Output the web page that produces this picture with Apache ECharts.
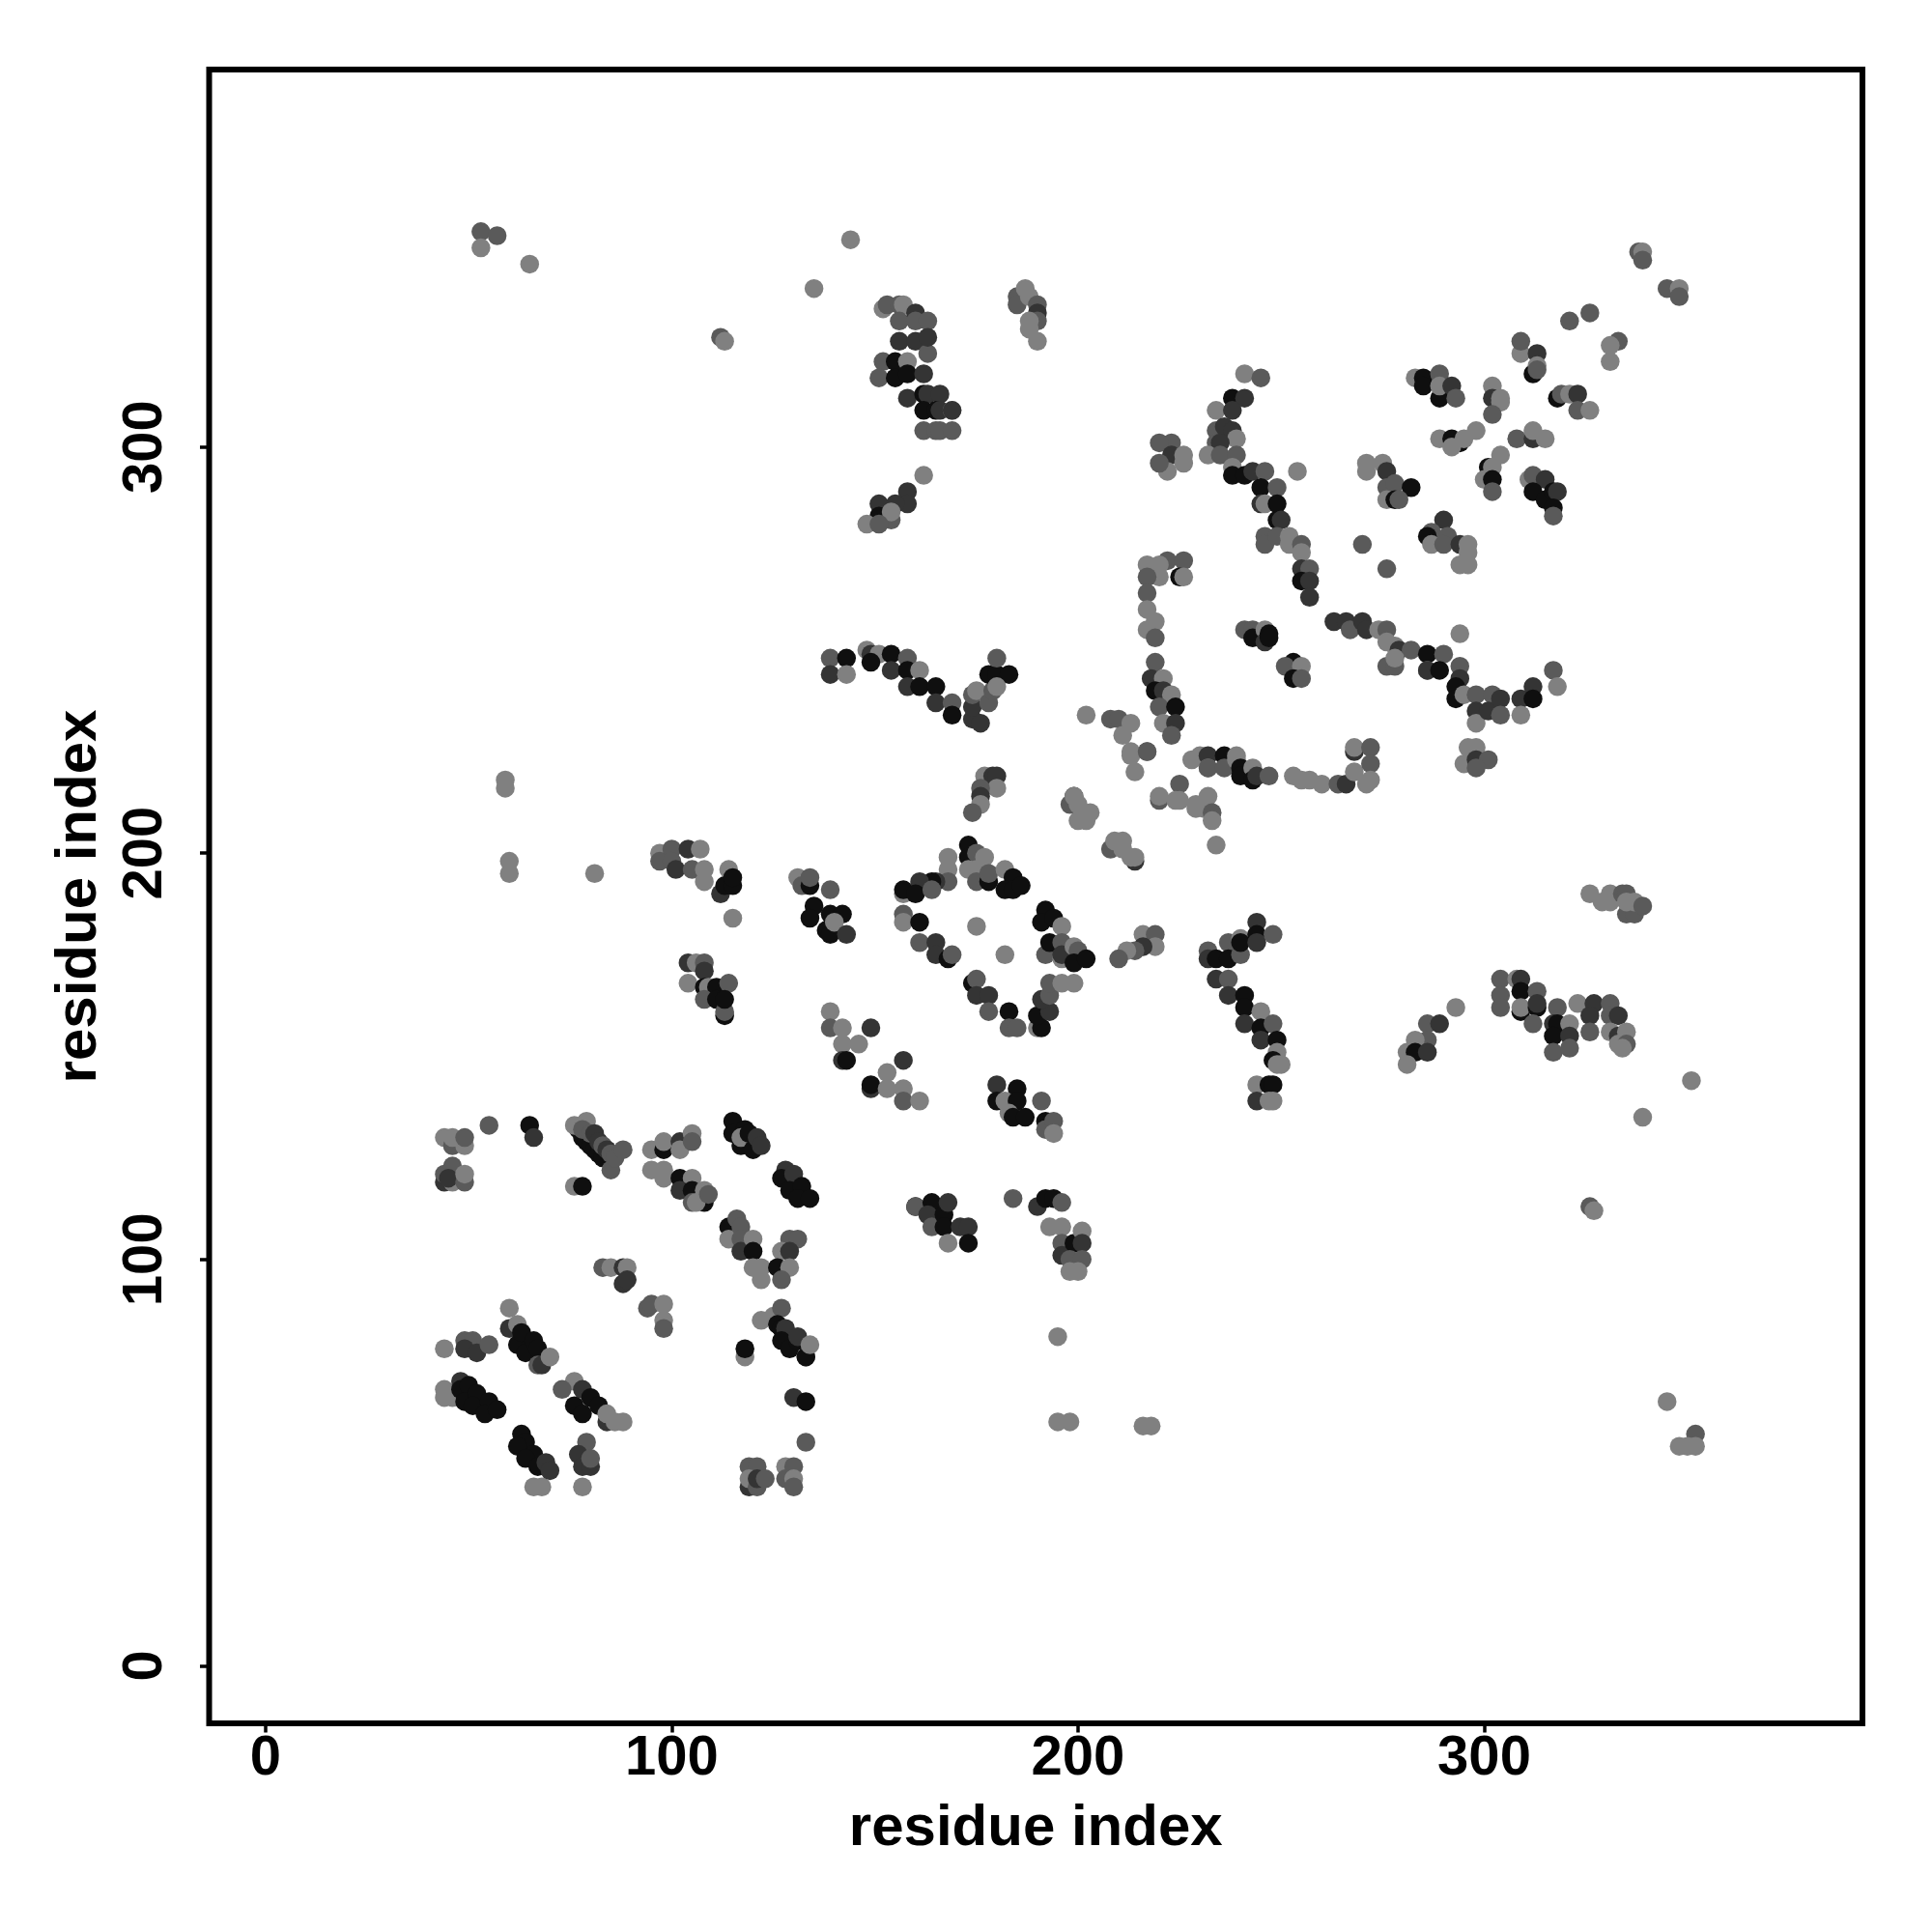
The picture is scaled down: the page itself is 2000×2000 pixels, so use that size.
<!DOCTYPE html>
<html><head><meta charset="utf-8">
<style>html,body{margin:0;padding:0;background:#fff}#c{width:2000px;height:2000px}</style>
<script src="https://cdn.jsdelivr.net/npm/echarts@6/dist/echarts.min.js"></script>
</head><body><div id="c"></div>
<script>
const L=0,M=1,D=2,K=3;
const shades=['#808080','#5a5a5a','#343434','#0f0f0f'];
const tickValues=[0,100,200,300];
const axisTitle='residue index';
const lowLeftTop=[[44,130,L],[46,128,M],[46,130,L],[49,128,L],[49,130,M],[55,133,M],[65,133,K],[66,130,D],[44,119,D],[44,121,M],[46,119,L],[46,123,M],[45,120,D],[49,119,M],[49,121,L],[77,132,K],[78,130,K],[79,129,K],[80,128,K],[81,127,K],[82,126,K],[83,125,K],[76,133,L],[79,134,L],[78,132,M],[80,131,M],[81,131,D],[82,129,D],[83,128,M],[85,122,M],[84,127,D],[85,126,M],[86,125,M],[88,127,M],[76,118,L],[78,118,K]];
const lowMidTop=[[95,127,L],[98,127,K],[98,129,L],[102,129,D],[102,127,L],[105,131,L],[105,129,M],[95,122,L],[98,122,L],[98,120,L],[102,120,K],[105,120,L],[102,117,D],[105,117,K],[105,114,M],[108,114,K],[106,114,L],[108,117,L],[109,116,M],[115,134,K],[115,131,K],[117,128,K],[118,132,K],[117,130,L],[119,131,K],[120,127,K],[121,130,D],[122,128,D],[128,122,D],[127,120,K],[130,121,D],[129,117,K],[132,118,K],[131,115,K],[134,115,K]];
const lowMidArc=[[114,108,K],[114,105,L],[116,110,M],[117,108,M],[117,105,M],[117,102,D],[120,105,L],[120,102,K],[120,98,L],[122,98,L],[122,95,L],[129,105,M],[131,105,M],[127,102,L],[129,102,D],[126,98,K],[129,98,L],[127,95,M],[83,98,M],[85,98,L],[88,98,D],[89,98,L],[88,94,D],[89,95,D],[94,88,M],[95,89,M],[98,89,L],[98,85,L],[98,83,M]];
const lowRight=[[122,85,L],[125,86,L],[127,88,M],[126,84,K],[127,83,K],[128,83,D],[127,80,K],[129,78,K],[131,80,K],[131,81,D],[133,76,L],[133,76,K],[134,79,L],[118,76,L],[118,78,K],[130,66,D],[133,65,K],[133,55,M],[119,49,M],[121,49,M],[119,44,D],[119,46,L],[121,44,M],[121,46,D],[123,46,M],[128,49,L],[130,49,M],[128,46,M],[130,46,L],[130,44,M]];
const lowLeftBottom=[[66,44,L],[68,44,L],[63,57,K],[64,55,K],[62,54,K],[66,52,K],[64,51,K],[67,49,K],[69,50,D],[70,48,D],[79,55,M],[77,52,D],[78,49,D],[80,49,D],[80,51,M],[78,44,L],[44,78,L],[49,80,M],[51,80,M],[49,78,D],[52,77,D],[55,79,M],[60,88,L],[60,83,D],[62,84,L],[62,79,K],[63,82,K],[64,77,K],[66,80,K],[67,78,K],[67,74,M],[68,74,D],[70,76,L],[44,68,L],[44,66,L],[46,66,L],[48,70,D],[48,68,K],[50,69,K],[49,65,K],[52,67,K],[51,64,K],[55,65,K],[54,62,K],[57,63,K],[76,70,L],[73,68,M],[78,68,D],[76,64,K],[80,66,K],[78,62,K],[82,64,K],[84,60,D],[84,62,L],[86,60,L],[88,60,L]];
const midLeft=[[59,218,L],[59,216,L],[60,198,L],[60,195,L],[81,195,L],[97,200,L],[97,198,M],[100,201,M],[100,198,M],[101,196,D],[104,201,D],[105,196,M],[107,201,L],[108,196,L],[108,193,L],[114,196,L],[112,190,D],[113,192,K],[115,192,K],[115,194,K],[115,184,L],[131,194,L],[132,192,M],[134,192,K],[134,194,M],[139,191,M],[135,187,K],[134,184,K],[138,181,K],[139,180,K],[139,185,K],[142,185,K],[140,183,L],[143,180,D]];
const midLower=[[104,173,D],[106,173,L],[108,173,M],[108,171,D],[104,168,L],[108,167,K],[109,167,L],[111,167,K],[114,168,M],[108,164,M],[111,164,K],[113,160,K],[113,161,M],[113,164,K],[139,161,L],[139,157,M],[142,157,L],[149,157,D],[142,153,L],[146,153,L],[142,149,D],[143,149,K],[149,142,D],[149,143,K],[153,146,L],[153,142,L],[157,149,D],[157,142,L],[157,139,M],[161,139,L]];
const mainDiamond=[[173,202,K],[173,199,K],[175,200,M],[177,199,L],[173,196,L],[175,196,L],[175,193,M],[178,193,K],[178,195,M],[182,196,L],[184,194,K],[182,191,K],[184,191,K],[186,192,K],[168,199,L],[168,196,L],[168,193,M],[165,193,D],[164,193,K],[161,193,D],[157,190,L],[157,191,K],[160,190,K],[164,191,M],[157,185,M],[157,183,L],[161,183,K],[161,178,M],[165,178,D],[165,175,D],[168,174,K],[169,175,M],[175,182,L],[182,175,L],[192,186,K],[191,183,K],[194,184,K],[196,182,L],[192,175,M],[193,178,K],[196,174,L],[196,178,M],[196,175,D],[199,177,L],[200,176,M],[199,173,K],[202,174,K],[174,168,K],[175,169,M],[175,165,D],[178,165,D],[178,161,M],[183,161,K],[183,157,M],[185,157,M],[190,157,L],[191,157,K],[190,160,K],[193,161,D],[191,164,D],[193,165,M],[193,168,M],[196,168,L],[199,168,L]];
const upperDiag=[[177,219,L],[179,219,D],[180,219,D],[180,216,L],[176,216,M],[176,214,D],[176,212,L],[174,210,M],[199,214,D],[198,212,M],[199,214,L],[200,212,L],[200,208,L],[203,210,L],[202,208,L],[208,201,M],[209,203,L],[211,203,L],[214,198,D],[211,201,L],[213,199,L],[214,199,L],[213,224,L],[217,225,M],[214,220,L],[220,213,M],[220,214,L],[225,217,M],[224,213,L],[225,213,L],[229,212,L],[232,214,L],[229,211,L],[231,211,L],[233,210,M],[233,208,L],[234,202,L],[253,219,L],[255,218,L],[257,218,L],[260,217,L],[264,217,M],[266,217,D],[268,220,L],[271,217,L],[268,225,D],[268,226,L],[272,226,M],[272,222,M],[272,218,L],[296,226,L],[298,226,L],[295,222,L],[298,223,D],[301,223,M],[298,221,M]];
const midTopRow=[[228,223,L],[230,224,L],[232,224,D],[232,221,L],[232,221,M],[236,224,K],[236,221,M],[239,224,L],[239,223,L],[240,221,K],[240,219,K],[243,221,L],[243,218,K],[244,219,D],[247,219,M]];
const lowMidCentre=[[180,143,D],[185,142,K],[180,139,K],[182,139,L],[185,139,K],[183,136,L],[184,135,K],[187,135,K],[191,139,M],[192,134,K],[192,132,M],[194,134,M],[194,131,L],[160,113,K],[160,113,M],[164,114,K],[163,111,D],[164,108,M],[167,111,K],[167,108,K],[168,114,D],[171,108,D],[173,108,D],[168,104,L],[173,104,K],[184,115,M],[190,113,D],[192,115,K],[194,115,K],[196,114,M],[193,108,L],[196,108,L],[196,104,M],[196,101,D],[199,104,K],[198,100,M],[201,107,L],[201,104,D],[201,100,M],[198,97,L],[200,97,L]];
const rightMid=[[232,176,M],[232,174,D],[234,174,K],[237,178,M],[237,174,K],[240,179,L],[240,175,M],[240,178,K],[244,183,D],[244,180,K],[244,178,D],[248,180,M],[234,169,D],[237,169,M],[237,165,D],[241,165,K],[241,162,K],[241,158,D],[245,161,L],[245,157,K],[248,158,M],[245,154,D],[249,154,K],[249,151,L],[248,149,K],[249,148,L],[250,148,L],[244,143,L],[247,143,K],[248,143,K],[244,139,D],[247,139,L],[248,139,L],[216,180,L],[219,180,M],[219,177,L],[216,177,D],[214,176,M],[212,176,L],[210,174,M]];
const upperMidA=[[241,318,L],[245,317,M],[238,312,K],[241,312,D],[234,309,L],[238,309,D],[234,304,M],[236,305,D],[238,304,D],[239,302,L],[234,301,M],[235,301,D],[232,298,L],[235,298,M],[239,298,M],[238,295,L],[238,293,K],[241,293,K],[243,294,D],[246,294,M],[245,290,K],[249,290,M],[245,286,D],[246,286,L],[249,286,K],[249,282,K],[250,282,D],[246,278,M],[246,276,M],[249,278,M],[252,278,L],[252,276,L],[255,276,M],[255,274,L],[255,270,D],[257,270,M],[255,267,K],[257,267,D],[257,263,D],[254,294,L],[223,301,M],[220,301,M],[223,298,D],[226,298,L],[226,296,L],[222,294,L],[220,296,M]];
const upperRight=[[283,317,L],[285,317,K],[285,315,K],[289,312,K],[289,318,M],[289,315,L],[292,315,D],[293,312,M],[302,315,L],[302,312,D],[304,312,L],[304,311,L],[302,308,M],[318,312,K],[319,313,M],[321,313,L],[323,313,D],[323,309,M],[326,309,L],[309,323,L],[313,323,D],[312,318,K],[313,320,L],[313,319,M],[331,321,L],[289,302,L],[292,302,K],[294,301,K],[292,300,L],[295,302,L],[298,304,L],[308,302,M],[312,302,D],[312,304,L],[315,302,L],[304,298,L],[301,295,K],[302,295,L],[300,292,L],[302,292,K],[302,289,M],[311,292,L],[312,293,M],[315,292,D],[312,289,K],[315,287,K],[317,289,K],[318,289,D],[317,285,K],[317,283,M],[271,296,L],[271,294,L],[275,296,L],[276,294,D],[276,290,M],[278,291,M],[282,290,K],[276,287,L],[278,287,K],[279,287,M],[270,276,M],[276,270,M],[290,282,D],[287,279,M],[286,278,K],[287,276,L],[291,278,M],[290,276,M],[294,276,D],[296,276,L],[296,274,L],[294,271,L],[296,271,L]];
const upperBand=[[263,257,D],[266,257,D],[267,255,M],[270,257,D],[271,255,D],[274,255,L],[276,255,M],[276,252,L],[278,251,L],[279,250,D],[282,250,M],[276,246,M],[278,246,M],[278,248,L],[286,249,K],[290,249,M],[286,245,L],[286,245,D],[289,245,K],[294,246,M],[294,243,D],[293,241,K],[293,238,K],[295,239,L],[294,254,L],[298,239,M],[298,235,D],[298,232,L],[302,239,M],[301,235,D],[304,238,D],[304,234,M],[309,238,D],[309,234,L],[312,241,D],[312,238,K],[317,245,M],[318,241,L],[241,255,M],[243,255,M],[243,253,K],[246,255,L],[246,252,D],[247,254,K],[247,253,K],[253,247,K],[251,246,M],[255,246,L],[253,243,K],[255,243,M]];
const upperLeft=[[152,334,L],[153,335,M],[156,335,M],[157,335,L],[156,331,M],[160,333,D],[160,331,M],[163,331,M],[156,326,D],[160,326,D],[163,323,M],[163,327,D],[152,321,M],[155,321,K],[158,321,L],[151,317,M],[155,317,K],[158,318,K],[162,318,D],[158,312,D],[162,313,K],[163,313,D],[166,313,D],[162,309,K],[165,309,K],[166,309,D],[169,309,L],[169,309,D],[162,304,M],[165,304,M],[166,304,M],[169,304,M],[162,293,L],[158,289,D],[158,286,D],[155,286,D],[151,286,D],[151,283,K],[154,282,M],[154,284,L],[148,281,L],[151,281,M],[185,337,M],[185,335,M],[187,339,L],[188,337,L],[190,335,M],[190,333,D],[190,331,M],[188,331,L],[188,329,L],[190,326,L]];
const cornerColumn=[[217,271,L],[222,272,M],[226,272,M],[220,271,L],[220,268,L],[217,268,M],[225,268,K],[226,268,L],[217,264,M],[217,260,L],[217,255,L],[219,257,L],[219,253,M],[219,247,M],[218,243,D],[221,243,L],[219,240,K],[221,240,D],[223,239,L],[220,236,M],[224,236,K],[221,232,L],[224,232,D],[223,229,M],[202,234,L],[208,233,M],[210,233,M],[213,232,L],[211,229,L],[213,225,L],[217,225,M]];
const midBand=[[139,248,M],[143,248,K],[139,244,D],[143,244,L],[148,250,L],[149,249,D],[151,249,L],[149,247,K],[154,249,K],[158,248,M],[154,245,D],[158,245,K],[161,245,L],[158,241,D],[161,241,K],[165,241,K],[165,237,D],[169,237,M],[169,234,K],[174,233,D],[176,232,D],[174,236,D],[174,239,M],[175,240,L],[178,237,M],[179,240,M],[178,244,K],[180,244,K],[183,244,K],[180,241,L],[180,248,M]];
const rightLower=[[326,190,L],[329,188,L],[331,190,L],[331,188,L],[334,190,M],[335,190,M],[335,185,M],[337,185,M],[335,188,L],[337,188,L],[339,187,M],[293,162,L],[286,158,M],[289,158,D],[286,154,M],[283,154,L],[281,151,L],[283,151,K],[286,151,D],[281,148,L],[304,169,M],[304,165,M],[304,162,M],[308,169,L],[309,169,D],[309,166,K],[309,161,K],[309,162,L],[313,166,M],[313,162,K],[313,163,D],[312,158,M],[318,162,M],[317,158,D],[318,158,K],[317,155,K],[321,158,L],[321,155,D],[317,151,M],[321,152,M],[323,163,L],[327,163,D],[326,160,D],[326,156,M],[331,163,M],[331,160,M],[333,160,D],[331,156,L],[333,155,D],[335,156,L],[333,153,L],[335,153,M],[334,152,L],[351,144,L],[339,135,L]];
const isolated=[[53,353,M],[53,349,L],[57,352,M],[65,345,L],[144,351,L],[135,339,L],[112,327,M],[113,326,L],[338,348,M],[339,348,L],[339,346,M],[345,339,M],[348,339,L],[348,337,M],[321,331,M],[326,333,M],[309,326,M],[333,326,M],[331,325,L],[326,113,M],[327,112,L],[345,65,L],[348,54,L],[352,57,M],[350,54,L],[352,54,L],[195,60,L],[198,60,L],[216,59,L],[218,59,L],[195,81,L]];

const allPoints=[].concat(lowLeftTop,lowMidTop,lowMidArc,lowRight,lowLeftBottom,midLeft,midLower,mainDiamond,upperDiag,midTopRow,lowMidCentre,rightMid,upperMidA,upperRight,upperBand,upperLeft,cornerColumn,midBand,rightLower,isolated);
const fontFamily='"Liberation Sans",Arial,sans-serif';
function axis(margin,extra,labelExtra,minVal,maxVal){
  return Object.assign({
    type:'value',min:minVal,max:maxVal,
    name:axisTitle,nameLocation:'middle',nameMoveOverlap:false,
    nameTextStyle:{fontFamily,fontWeight:'bold',fontSize:60,color:'#000'},
    axisLine:{show:false,onZero:false},splitLine:{show:false},
    axisTick:{show:true,length:9.5,lineStyle:{color:'#000',width:3.5},customValues:tickValues},
    axisLabel:Object.assign({show:true,fontFamily,fontWeight:'bold',fontSize:58,color:'#000',customValues:tickValues,margin,hideOverlap:false},labelExtra)
  },extra);
}
const chart=echarts.init(document.getElementById('c'),null,{renderer:'canvas'});
chart.setOption({
  animation:false,backgroundColor:'#fff',
  grid:{left:216.5,top:72,width:1711.5,height:1712,show:true,borderColor:'#000',borderWidth:6,backgroundColor:'transparent'},
  xAxis:axis(8,{nameGap:79},{},-13.9,393.1),
  yAxis:axis(37,{nameGap:104,nameRotate:90},{rotate:90},-14.2,392.9),
  series:[{type:'scatter',symbol:'circle',symbolSize:19.5,silent:true,
    data:allPoints,encode:{x:0,y:1},
    itemStyle:{opacity:1,color:p=>shades[p.value[2]]}}]
});
</script></body></html>
